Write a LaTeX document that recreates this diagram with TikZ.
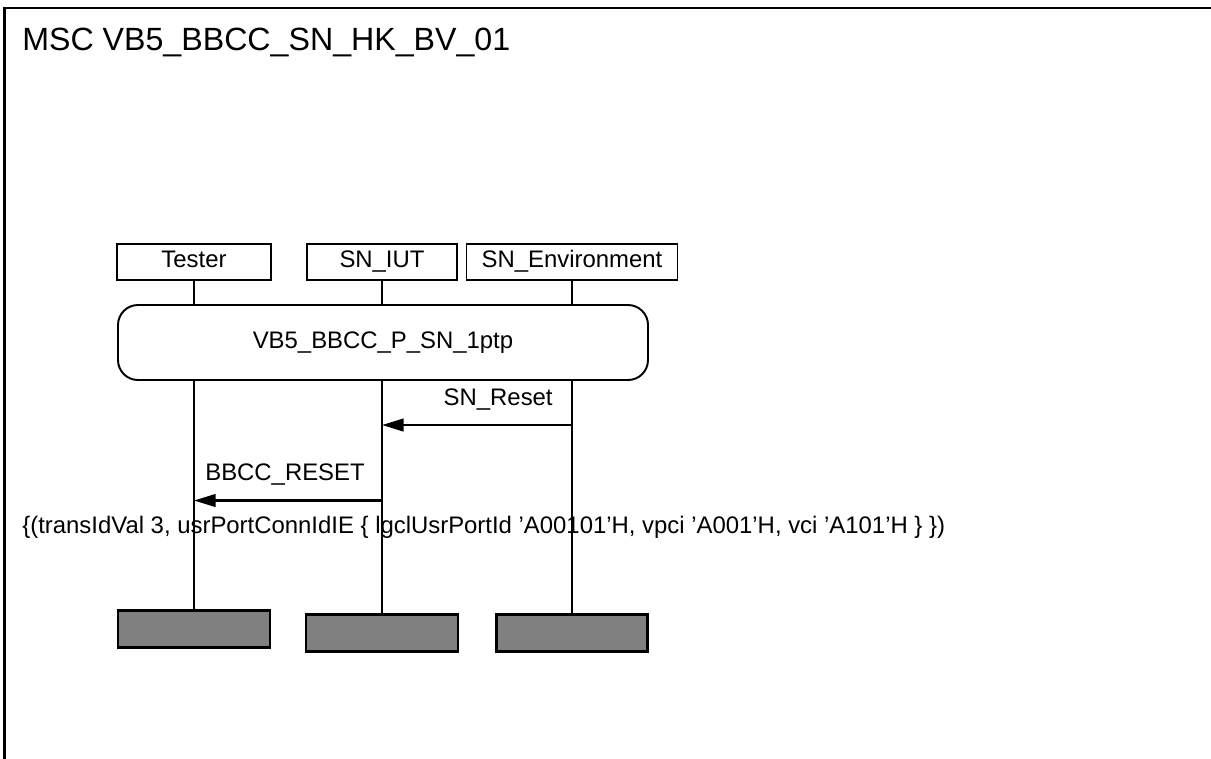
\documentclass[tikz,border=0pt]{standalone}
\usepackage{fontspec}
\setmainfont{Liberation Sans}
\usetikzlibrary{arrows.meta}

\begin{document}
\begin{tikzpicture}[x=0.2mm,y=-0.2mm,>={Triangle[length=4.3mm,width=2.5mm]},
  font=\fontsize{13.6}{16}\selectfont,line cap=rect,
  head/.style={draw,line width=1.1pt,minimum height=7.2mm,inner sep=0pt,text height=4.6mm,text depth=2.6mm},
  tail/.style={draw,line width=1.2pt,fill=gray,minimum height=7.4mm,inner sep=0pt},
  life/.style={line width=1.4pt},
  msg/.style={->,line width=1.4pt}]
\useasboundingbox (0,0) rectangle (1211,758);
\draw[line width=1.3pt] (4.5,770) -- (4.5,8) -- (1220,8);
\node[anchor=base west,inner sep=0pt,font=\fontsize{18.3}{22}\selectfont] (title) at (22,50) {MSC VB5\_BBCC\_SN\_HK\_BV\_01};
\node[head,minimum width=30.8mm] (tester) at (194,262) {Tester};
\node[head,minimum width=30mm] (iut) at (382,262) {SN\_IUT};
\node[head,minimum width=42.2mm] (env) at (572,262) {SN\_Environment};
\node[tail,minimum width=30.4mm] (testerend) at (194,629) {};
\node[tail,minimum width=30.4mm] (iutend) at (382,633) {};
\node[tail,minimum width=30.2mm] (envend) at (572,633) {};
\draw[life] (tester) -- (testerend);
\draw[life] (iut) -- (iutend);
\draw[life] (env) -- (envend);
\node[draw,fill=white,line width=1.1pt,rounded corners=4mm,minimum width=106mm,minimum height=15mm] (ref) at (383,342.5) {VB5\_BBCC\_P\_SN\_1ptp};
\coordinate (m1) at (0,425);
\coordinate (m2) at (0,500.5);
\draw[msg] (env |- m1) -- (iut |- m1);
\node[anchor=base east,inner sep=0pt] (reset) at (553,405) {SN\_Reset};
\draw[msg] (iut |- m2) -- (tester |- m2);
\node[anchor=base west,inner sep=0pt] (bbcc) at (205,480) {BBCC\_RESET};
\node[anchor=base west,inner sep=0pt] (params) at (22,533) {\{(transIdVal 3, usrPortConnIdIE \{ lgclUsrPortId ’A00101’H, vpci ’A001’H, vci ’A101’H \} \})};
\end{tikzpicture}
\end{document}
